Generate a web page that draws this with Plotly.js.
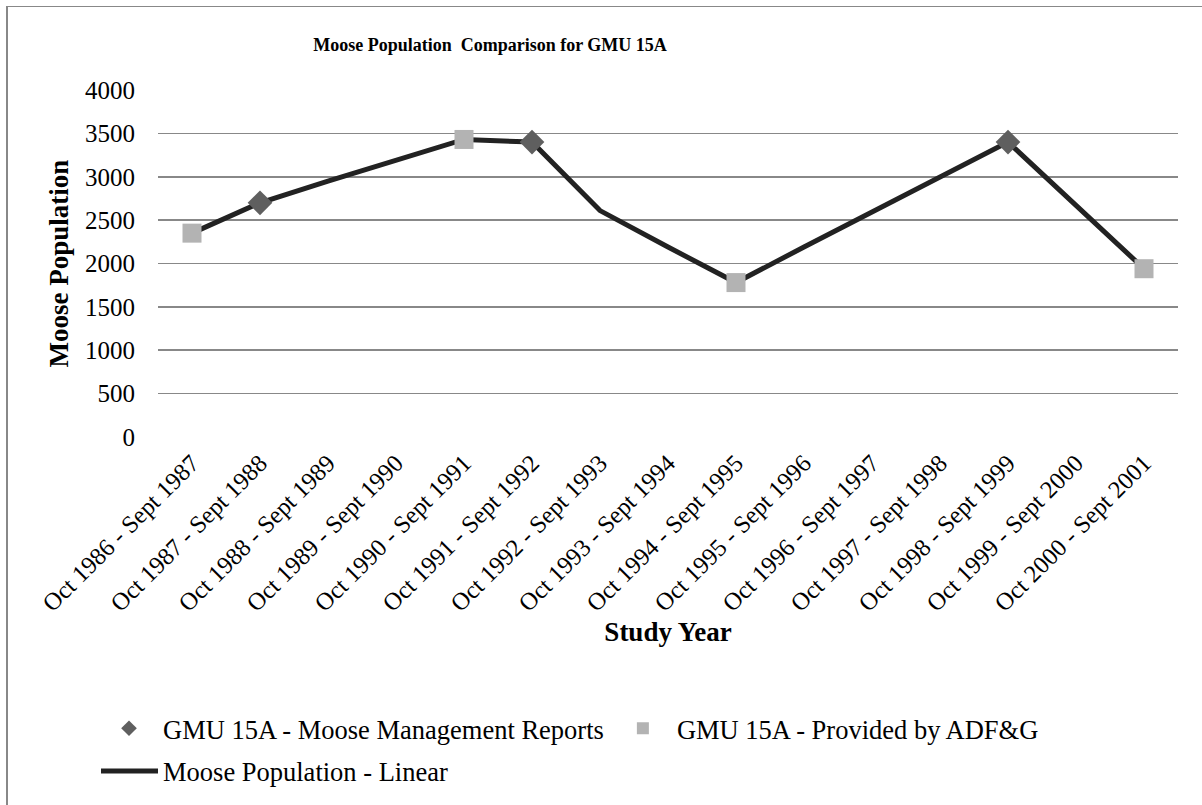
<!DOCTYPE html>
<html>
<head>
<meta charset="utf-8">
<script src="https://cdn.plot.ly/plotly-3.0.1.min.js"></script>
<style>
  html, body { margin: 0; padding: 0; overflow: hidden; background: #fff; }
  #chart { position: absolute; left: 0; top: 0; width: 1202px; height: 805px; }
  #frame { position: absolute; left: 6px; top: 6px; width: 1400px; height: 1000px;
           border-left: 2px solid #888; border-top: 1px solid #888; pointer-events: none; }
</style>
</head>
<body>
<div id="chart"></div>
<div id="frame"></div>
<script>
// Categories (study years)
const categories = [
  "Oct 1986 - Sept 1987", "Oct 1987 - Sept 1988", "Oct 1988 - Sept 1989",
  "Oct 1989 - Sept 1990", "Oct 1990 - Sept 1991", "Oct 1991 - Sept 1992",
  "Oct 1992 - Sept 1993", "Oct 1993 - Sept 1994", "Oct 1994 - Sept 1995",
  "Oct 1995 - Sept 1996", "Oct 1996 - Sept 1997", "Oct 1997 - Sept 1998",
  "Oct 1998 - Sept 1999", "Oct 1999 - Sept 2000", "Oct 2000 - Sept 2001"
];
// Line series: Moose Population - Linear
const linearValues = [2350, 2700, 2950, 3190, 3430, 3400, 2610, 2190, 1780, 2190, 2590, 3000, 3400, 2670, 1940];
// GMU 15A - Moose Management Reports (diamonds)
const mgmtCategories = ["Oct 1987 - Sept 1988", "Oct 1991 - Sept 1992", "Oct 1998 - Sept 1999"];
const mgmtValues = [2700, 3400, 3400];
// GMU 15A - Provided by ADF&G (squares)
const adfgCategories = ["Oct 1986 - Sept 1987", "Oct 1990 - Sept 1991", "Oct 1994 - Sept 1995", "Oct 2000 - Sept 2001"];
const adfgValues = [2350, 3430, 1780, 1940];
const yTicks = [0, 500, 1000, 1500, 2000, 2500, 3000, 3500, 4000];

const FONT = "'Liberation Serif', 'Times New Roman', Times, serif";

const traces = [
  {
    type: "scatter", mode: "lines", name: "Moose Population - Linear",
    x: categories, y: linearValues,
    line: { color: "#222222", width: 5 },
    legend: "legend2", hoverinfo: "x+y"
  },
  {
    type: "scatter", mode: "markers", name: "GMU 15A - Moose Management Reports",
    x: mgmtCategories, y: mgmtValues,
    marker: { symbol: "diamond", size: 19, color: "#5f5f5f" },
    legend: "legend"
  },
  {
    type: "scatter", mode: "markers", name: "GMU 15A - Provided by ADF&G",
    x: adfgCategories, y: adfgValues,
    marker: { symbol: "square", size: 19, color: "#b3b3b3" },
    legend: "legend"
  }
];

const layout = {
  width: 1202, height: 805,
  paper_bgcolor: "#ffffff", plot_bgcolor: "#ffffff",
  margin: { l: 158, r: 24, t: 90, b: 368 },
  font: { family: FONT, size: 22, color: "#000" },
  title: {
    text: "<b>Moose Population  Comparison for GMU 15A</b>",
    font: { family: FONT, size: 18, color: "#000" },
    x: 490 / 1202, xanchor: "center", xref: "container",
    y: 1 - 45 / 805, yanchor: "middle", yref: "container"
  },
  xaxis: {
    type: "category",
    categoryorder: "array", categoryarray: categories,
    range: [-0.5, categories.length - 0.5], autorange: false,
    tickangle: -45,
    tickfont: { family: FONT, size: 24.5, color: "#000" },
    showgrid: false, zeroline: false, showline: false,
    ticks: "", ticklabelstandoff: 6,
    title: { text: "<b>Study Year</b>", font: { family: FONT, size: 27, color: "#000" }, standoff: 2 },
    fixedrange: true
  },
  yaxis: {
    range: [0, 4000], autorange: false,
    tickvals: yTicks,
    tickfont: { family: FONT, size: 25, color: "#000" },
    showgrid: true, gridcolor: "#888888", gridwidth: 1.6,
    zeroline: false, showline: false, ticks: "",
    ticklabelstandoff: 22,
    title: { text: "<b>Moose Population</b>", font: { family: FONT, size: 27, color: "#000" }, standoff: 8 },
    fixedrange: true
  },
  legend: {
    orientation: "h", x: 95 / 1202, xanchor: "left", y: 0.095, yanchor: "middle",
    xref: "container", yref: "container",
    font: { family: FONT, size: 26.5, color: "#000" },
    bgcolor: "rgba(0,0,0,0)", itemsizing: "constant", itemwidth: 58, tracegroupgap: 0
  },
  legend2: {
    orientation: "h", x: 96 / 1202, xanchor: "left", y: 0.042, yanchor: "middle",
    xref: "container", yref: "container",
    font: { family: FONT, size: 26.5, color: "#000" },
    bgcolor: "rgba(0,0,0,0)", itemwidth: 57
  },
  showlegend: true
};

Plotly.newPlot("chart", traces, layout, { displayModeBar: false, staticPlot: true });
</script>
</body>
</html>
